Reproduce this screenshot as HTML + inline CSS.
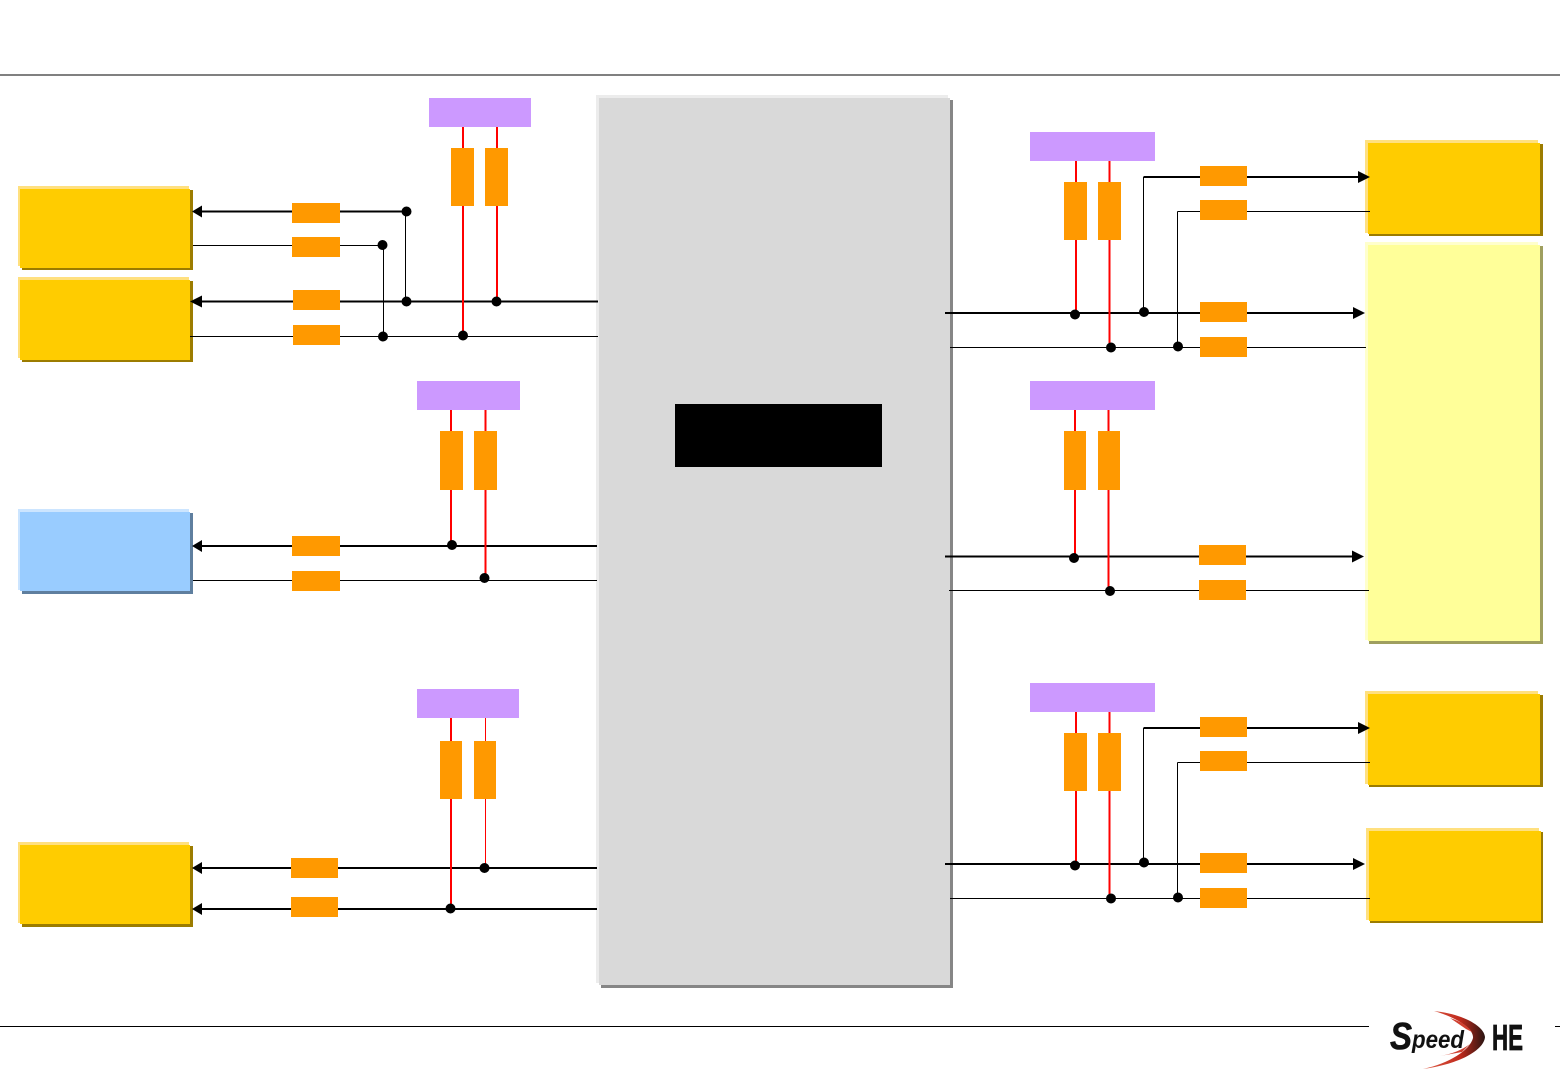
<!DOCTYPE html>
<html>
<head>
<meta charset="utf-8">
<style>
html,body{margin:0;padding:0;background:#fff;width:1560px;height:1080px;overflow:hidden}
svg{display:block;position:absolute;left:0;top:0}
</style>
</head>
<body>
<svg width="1560" height="1080" viewBox="0 0 1560 1080" xmlns="http://www.w3.org/2000/svg">
<defs>
<linearGradient id="sw" x1="0" y1="0" x2="1" y2="0">
<stop offset="0" stop-color="#e0604a"/>
<stop offset="0.6" stop-color="#c02a1c"/>
<stop offset="1" stop-color="#2a1512"/>
</linearGradient>
</defs>
<rect width="1560" height="1080" fill="#fff"/>
<rect x="0" y="74" width="1560" height="2" fill="#808080"/>
<rect x="0" y="1026" width="1369" height="1" fill="#000"/>
<rect x="1555" y="1026" width="5" height="1" fill="#000"/>

<!-- centre block -->
<rect x="596" y="95" width="352" height="888" fill="#ececec"/>
<rect x="601" y="100" width="352" height="888" fill="#868686"/>
<rect x="599" y="98" width="351" height="887" fill="#d9d9d9"/>
<rect x="675" y="404" width="207" height="63" fill="#000"/>

<!-- left boxes -->
<g>
<rect x="18" y="186" width="171" height="80" fill="#ffe07f"/><rect x="22" y="190" width="171" height="80" fill="#9c7c00"/><rect x="20" y="189" width="170" height="79" fill="#ffcc00"/>
<rect x="18" y="277" width="171" height="81" fill="#ffe07f"/><rect x="22" y="281" width="171" height="81" fill="#9c7c00"/><rect x="20" y="280" width="170" height="80" fill="#ffcc00"/>
<rect x="18" y="509" width="171" height="81" fill="#cce5ff"/><rect x="22" y="513" width="171" height="81" fill="#5f7f9f"/><rect x="20" y="512" width="170" height="79" fill="#99ccff"/>
<rect x="18" y="842" width="171" height="81" fill="#ffe07f"/><rect x="22" y="846" width="171" height="81" fill="#9c7c00"/><rect x="20" y="845" width="170" height="79" fill="#ffcc00"/>
</g>

<!-- right boxes -->
<g>
<rect x="1365" y="140" width="173" height="93" fill="#ffe07f"/><rect x="1369" y="144" width="174" height="92" fill="#9c7c00"/><rect x="1368" y="143" width="172" height="91" fill="#ffcc00"/>
<rect x="1365" y="242" width="173" height="398" fill="#ffffcc"/><rect x="1369" y="246" width="174" height="398" fill="#9f9f5f"/><rect x="1368" y="245" width="172" height="396" fill="#ffff99"/>
<rect x="1365" y="691" width="173" height="93" fill="#ffe07f"/><rect x="1369" y="695" width="174" height="92" fill="#9c7c00"/><rect x="1368" y="694" width="172" height="91" fill="#ffcc00"/>
<rect x="1366" y="828" width="173" height="92" fill="#ffe07f"/><rect x="1370" y="832" width="173" height="91" fill="#9c7c00"/><rect x="1369" y="831" width="172" height="90" fill="#ffcc00"/>
</g>

<!-- thick black lines -->
<g stroke="#000" stroke-width="2" fill="none">
<path d="M198 211.500H406"/>
<path d="M198 301.500H598"/>
<path d="M198 546H597"/>
<path d="M198 868H597"/>
<path d="M198 909H597"/>
<path d="M945 313H1356"/>
<path d="M1143.500 177H1362"/>
<path d="M945 556.500H1354"/>
<path d="M945 864H1356"/>
<path d="M1143.500 728H1362"/>
</g>
<!-- thin black lines -->
<g stroke="#000" stroke-width="1" fill="none">
<path d="M193 245.500H383"/>
<path d="M190 336.500H598"/>
<path d="M193 580.500H597"/>
<path d="M405.500 211V301"/>
<path d="M383.500 245V336"/>
<path d="M950 347.500H1366"/>
<path d="M1143.500 177V312"/>
<path d="M1177.500 211.500H1370"/>
<path d="M1177.500 211.500V347"/>
<path d="M949 590.500H1369"/>
<path d="M950 898.500H1370"/>
<path d="M1143.500 728V863"/>
<path d="M1177.500 762.500H1370"/>
<path d="M1177.500 762.500V898"/>
</g>

<!-- arrowheads -->
<g fill="#000">
<path d="M192 211.500L202 205.500V217.500Z"/>
<path d="M190 301.500L202 295.500V307.500Z"/>
<path d="M192 546L202 540V552Z"/>
<path d="M192 868L202 862V874Z"/>
<path d="M192 909L202 903V915Z"/>
<path d="M1370 177L1358 171V183Z"/>
<path d="M1365 313L1353 307V319Z"/>
<path d="M1364 556.500L1352 550.500V562.500Z"/>
<path d="M1370 728L1358 722V734Z"/>
<path d="M1365 864L1353 858V870Z"/>
</g>

<!-- red lines -->
<g stroke="#f00" stroke-width="2" fill="none">
<path d="M463 127V335"/>
<path d="M497 127V301"/>
<path d="M451 410V545"/>
<path d="M485.500 410V578"/>
<path d="M451 718V908"/>
<path d="M485.500 718V868" stroke-width="1"/>
<path d="M1076 161V314"/>
<path d="M1109.500 161V347"/>
<path d="M1075 410V557"/>
<path d="M1108.500 410V591"/>
<path d="M1076 712V865"/>
<path d="M1109.500 712V898"/>
</g>

<!-- purple -->
<g fill="#cc99ff">
<rect x="429" y="98" width="102" height="29"/>
<rect x="417" y="381" width="103" height="29"/>
<rect x="417" y="689" width="102" height="29"/>
<rect x="1030" y="132" width="125" height="29"/>
<rect x="1030" y="381" width="125" height="29"/>
<rect x="1030" y="683" width="125" height="29"/>
</g>

<!-- orange -->
<g fill="#ff9900">
<rect x="451" y="148" width="23" height="58"/><rect x="485" y="148" width="23" height="58"/>
<rect x="440" y="431" width="23" height="59"/><rect x="474" y="431" width="23" height="59"/>
<rect x="440" y="741" width="22" height="58"/><rect x="474" y="741" width="22" height="58"/>
<rect x="1064" y="182" width="23" height="58"/><rect x="1098" y="182" width="23" height="58"/>
<rect x="1064" y="431" width="22" height="59"/><rect x="1098" y="431" width="22" height="59"/>
<rect x="1064" y="733" width="23" height="58"/><rect x="1098" y="733" width="23" height="58"/>
<rect x="292" y="203" width="48" height="20"/><rect x="292" y="237" width="48" height="20"/>
<rect x="293" y="290" width="47" height="20"/><rect x="293" y="325" width="47" height="20"/>
<rect x="292" y="536" width="48" height="20"/><rect x="292" y="571" width="48" height="20"/>
<rect x="291" y="858" width="47" height="20"/><rect x="291" y="897" width="47" height="20"/>
<rect x="1200" y="166" width="47" height="20"/><rect x="1200" y="200" width="47" height="20"/>
<rect x="1200" y="302" width="47" height="20"/><rect x="1200" y="337" width="47" height="20"/>
<rect x="1199" y="545" width="47" height="20"/><rect x="1199" y="580" width="47" height="20"/>
<rect x="1200" y="717" width="47" height="20"/><rect x="1200" y="751" width="47" height="20"/>
<rect x="1200" y="853" width="47" height="20"/><rect x="1200" y="888" width="47" height="20"/>
</g>

<!-- junction dots -->
<g fill="#000">
<circle cx="406.500" cy="211.500" r="5"/><circle cx="382.500" cy="245" r="5"/>
<circle cx="406.500" cy="301.500" r="5"/><circle cx="496.500" cy="301.500" r="5"/>
<circle cx="463" cy="335.500" r="5"/><circle cx="383" cy="336.500" r="5"/>
<circle cx="452" cy="545" r="5"/><circle cx="484.500" cy="578" r="5"/>
<circle cx="484.500" cy="868" r="5"/><circle cx="450.500" cy="908.500" r="5"/>
<circle cx="1075" cy="314.500" r="5"/><circle cx="1111" cy="347.500" r="5"/>
<circle cx="1144" cy="312" r="5"/><circle cx="1178" cy="346.500" r="5"/>
<circle cx="1074" cy="558" r="5"/><circle cx="1110" cy="591" r="5"/>
<circle cx="1075" cy="865.500" r="5"/><circle cx="1111" cy="898.500" r="5"/>
<circle cx="1144" cy="862.500" r="5"/><circle cx="1178" cy="897.500" r="5"/>
</g>

<!-- logo -->
<g>
<path d="M1434 1011C1463 1014 1484 1026 1485 1037C1484 1050 1460 1064 1423 1069C1450 1063 1470 1050 1473 1038C1474 1029 1458 1018 1434 1011Z" fill="url(#sw)"/>
<path d="M1450 1018C1460 1021 1468 1026 1472 1032L1466 1029Z" fill="#d04030"/>
<path d="M1440 1056C1452 1054 1462 1050 1470 1044L1462 1052Z" fill="#d04030"/>
<text x="1390" y="1049" font-family="'Liberation Sans',sans-serif" font-weight="700" font-style="italic" font-size="38" textLength="22" lengthAdjust="spacingAndGlyphs" fill="#111" stroke="#111" stroke-width="0.6">S</text>
<text x="1412" y="1048" font-family="'Liberation Sans',sans-serif" font-weight="700" font-style="italic" font-size="25" textLength="52" lengthAdjust="spacingAndGlyphs" fill="#111">peed</text>
<text x="1492" y="1050" font-family="'Liberation Sans',sans-serif" font-weight="700" font-size="36" textLength="31" lengthAdjust="spacingAndGlyphs" fill="#111" stroke="#111" stroke-width="0.8">HE</text>
</g>
</svg>
</body>
</html>
